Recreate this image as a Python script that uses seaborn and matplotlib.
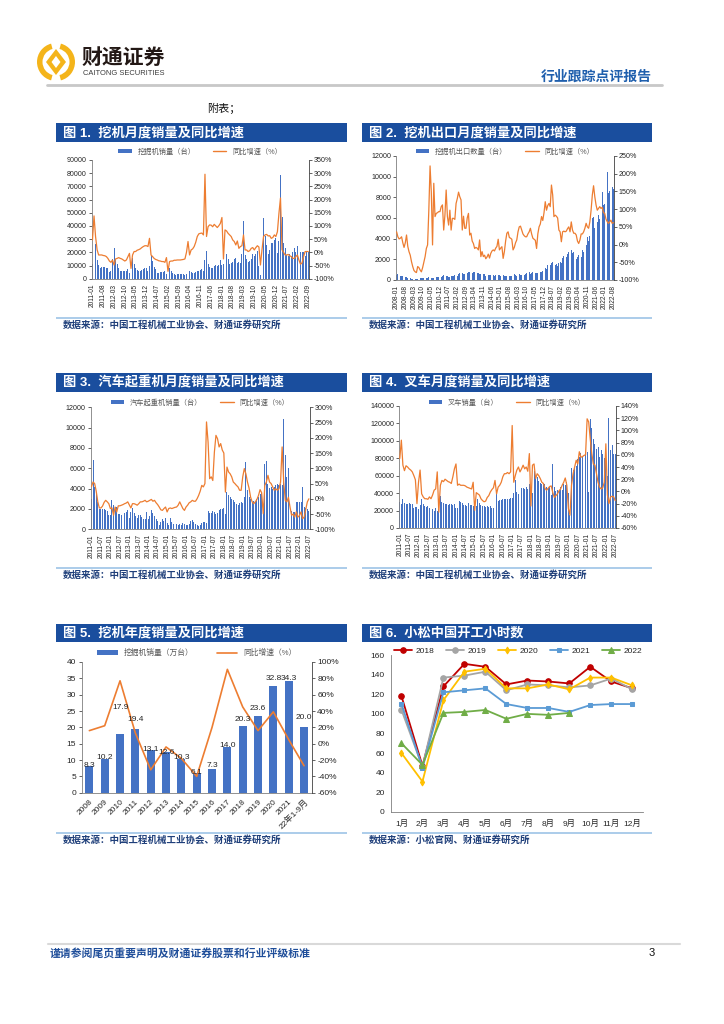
import numpy as np
import matplotlib
matplotlib.use('Agg')
import matplotlib.pyplot as plt
import matplotlib.patches as mpatches
from matplotlib.lines import Line2D
import seaborn as sns

sns.set_style('white')
plt.rcParams['font.family'] = ['Liberation Sans', 'Noto Sans CJK SC', 'DejaVu Sans']
plt.rcParams['axes.unicode_minus'] = False


def month_labels(y, m, n):
    out = []
    for _ in range(n):
        out.append(f'{y}-{m:02d}')
        m += 1
        if m > 12:
            y, m = y + 1, 1
    return out


# ---------------- 数据 ----------------
# 图1 挖机月度销量 2011-01 ~ 2022-09
exc_months = month_labels(2011, 1, 141)
exc_sales = [
    11000, 20500, 26500, 14000, 10500, 8000, 8500, 8800, 8600, 8200, 8000, 5000,
    6000, 15000, 23000, 15000, 11000, 8000, 6000, 5800, 5800, 5900, 6200, 7000,
    4500, 6500, 16000, 11500, 8000, 6500, 6000, 5800, 6800, 7500, 8000, 8200,
    5500, 9500, 18000, 13500, 8500, 7500, 4500, 4600, 4800, 5000, 5200, 5600,
    3500, 4000, 8000, 6000, 4500, 3500, 3000, 3200, 3300, 3500, 3200, 3800,
    3000, 3500, 7000, 6000, 5200, 4300, 4500, 4800, 5800, 6200, 6800, 7000,
    6000, 14000, 21000, 11000, 9000, 8000, 8000, 9500, 10500, 10000, 10500, 14000,
    10500, 11000, 26500, 19000, 15000, 11000, 12000, 13000, 15000, 15500, 12000, 13000,
    12000, 19000, 44000, 18000, 15000, 13000, 13500, 15000, 18500, 17000, 19000, 21000,
    9500, 2500, 49000, 46000, 32000, 25500, 19000, 21500, 27000, 27000, 29000, 31000,
    19500, 28500, 79000, 46500, 27000, 23000, 18000, 17000, 19000, 17500, 20000, 23000,
    20500, 24500, 37000, 20500, 20000, 20500, 17000, 20500, 20000]
exc_yoy = [
    47, 138, 60, 10, -10, -10, -10, -12, -13, -16, -23, -33,
    -38, -29, -48, -25, -23, -20, -23, -25, -29, -33, -29, -16,
    -4, -61, -10, 3, 3, 8, 10, 13, 18, 22, 25, 25,
    22, 53, -10, -16, -23, -27, -29, -32, -33, -35, -35, -38,
    -20, -72, -35, -33, -33, -30, -30, -29, -29, -29, -28, -27,
    -25, 0, 41, -10, 9, 13, 22, 38, 60, 70, 72, 73,
    66, 296, 60, 97, 104, 103, 97, 106, 100, 94, 101, 110,
    132, -25, 85, 81, 72, 66, 60, 47, 41, 28, 43, 15,
    22, 25, 66, 9, 9, 3, 6, 15, 18, 9, 18, 25,
    20, -48, 10, 60, 66, 68, 62, 63, 53, 56, 66, 60,
    78, 148, 206, 10, 0, -10, -10, -8, -13, -16, -23, -23,
    -16, -10, -30, -45, -40, -16, 3, 3, 3]

# 图2 挖机出口 2008-01 ~ 2022-08
exp_months = month_labels(2008, 1, 176)
exp_sales = [
    450, 550, 500, 420, 380, 350, 300, 280, 250, 200, 160, 150,
    120, 100, 110, 120, 130, 140, 150, 160, 170, 150, 160, 180,
    150, 200, 250, 220, 230, 220, 240, 220, 250, 260, 280, 350,
    300, 350, 450, 400, 380, 350, 300, 320, 350, 360, 380, 450,
    300, 400, 600, 650, 700, 650, 600, 620, 650, 700, 750, 800,
    500, 700, 750, 800, 850, 700, 650, 600, 620, 650, 600, 550,
    400, 450, 500, 450, 500, 420, 450, 400, 450, 480, 500, 450,
    350, 400, 450, 420, 430, 400, 450, 380, 400, 420, 500, 550,
    450, 400, 580, 550, 500, 450, 500, 480, 550, 650, 700, 750,
    600, 650, 800, 750, 700, 720, 650, 700, 750, 800, 900, 1000,
    1200, 1050, 1450, 1300, 1500, 1600, 1700, 1650, 1500, 1550, 1400, 1600,
    1700, 1600, 2100, 2300, 2600, 2200, 2500, 2750, 2600, 2900, 2600, 2700,
    2600, 2000, 2200, 2400, 2500, 2200, 2900, 2700, 3000, 3400, 4200, 3800,
    4300, 5200, 6000, 6100, 5000, 5800, 5600, 6300, 5900, 7300, 8500, 7300,
    7400, 7300, 10500, 8400, 8600, 9700, 9000, 8800]
exp_yoy = [
    36, 22, 16, 18, 22, 5, -8, 5, 27, -5, -20, -30,
    -48, -62, -73, -77, -79, -62, -65, -72, -77, -65, -50, -34,
    -11, -1, 97, 222, 149, -1, 173, 79, 88, 90, 93, 93,
    107, 112, 41, 83, 154, 79, 55, 97, 41, 74, 74, 71,
    116, 130, 148, 135, 126, 41, 80, 46, 46, 75, 88, 27,
    32, 10, 3, -11, -8, -10, -15, 13, -34, -20, -34, -30,
    -40, -35, -27, -38, -25, -18, -15, -18, -10, -5, 15, -15,
    -10, -6, -39, -20, 10, 32, 36, 20, 18, 15, -15, -8,
    5, 13, 36, 50, 52, 41, 30, 25, 22, 22, 30, 36,
    46, 30, 18, 15, 12, -11, 30, 50, 58, 79, 68, 90,
    121, 97, 110, 116, 107, 168, 140, 79, 83, 80, 75, 41,
    36, 8, 36, 38, 36, 38, 45, 50, 36, 64, 41, 32,
    32, 27, 10, 3, 13, 30, 30, 36, 46, 60, 50, 46,
    64, 97, 140, 166, 135, 112, 97, 102, 107, 102, 105, 90,
    88, 72, 65, 60, 64, 69, 60, 62]

# 图3 汽车起重机 2011-01 ~ 2022-07
crane_months = month_labels(2011, 1, 139)
crane_sales = [
    3000, 6850, 4200, 3700, 2700, 2000, 2000, 2000, 1950, 1900, 1800, 1450,
    1450, 2850, 2400, 2200, 2200, 1500, 1500, 1450, 1550, 1600, 1700, 1850,
    1100, 1700, 2050, 1600, 1300, 1100, 1400, 1450, 1200, 1000, 1000, 1700,
    1000, 1300, 1870, 1650, 1300, 1050, 800, 460, 720, 1050, 850, 1100,
    600, 460, 1100, 720, 560, 560, 520, 430, 500, 450, 590, 560,
    400, 430, 560, 790, 880, 720, 520, 400, 300, 400, 650, 720,
    720, 650, 1840, 1600, 1600, 1840, 1700, 1550, 1600, 1930, 2030, 2030,
    2100, 1500, 3670, 3340, 3180, 3000, 2850, 2700, 2530, 2360, 2600, 2700,
    2600, 3180, 6600, 3840, 3200, 3000, 2700, 2800, 2700, 2950, 3200, 3500,
    3670, 1700, 6460, 6690, 4490, 4060, 4160, 3930, 4200, 4330, 4490, 4400,
    4500, 4400, 10890, 7280, 5150, 6030, 1870, 1770, 1750, 1750, 2700, 2700,
    2700, 2700, 4160, 2200, 2100, 2030, 1800]
crane_yoy = [
    40, 55, 50, 25, -10, -30, -30, -24, -12, -5, -10, -16,
    -32, -30, -54, -27, -43, -23, -23, -21, -19, -16, -14, -10,
    -20, -30, -16, -16, -18, -21, -16, -10, -10, -8, -5, -10,
    -8, -5, -2, -8, -5, -13, -19, -27, -36, -38, -32, -27,
    -43, -32, -30, -32, -30, -28, -27, -21, -10, -21, -32, -38,
    -27, -21, -13, -10, -5, -8, -8, 0, 11, 25, 44, 39,
    50, 252, 186, 66, 72, 60, 153, 208, 197, 170, 181, 160,
    150, 22, 104, 88, 82, 72, 55, 50, 44, 39, 28, 28,
    72, 99, 82, 55, 35, 5, -10, -16, -10, -2, 11, 30,
    20, -49, 44, 55, 77, 55, 50, 39, 28, 33, 28, 33,
    55, 170, 55, -5, -10, 5, -27, -54, -50, -60, -43, -60,
    -55, -43, -65, -60, -35, -10, 0]

# 图4 叉车 2011-01 ~ 2022-07
fork_months = month_labels(2011, 1, 139)
fork_sales = [
    30000, 28000, 33000, 28700, 28000, 28000, 28300, 28000, 27500, 23000, 24000, 24500,
    22000, 26000, 33000, 27000, 25500, 24000, 25000, 23000, 26000, 22000, 20000, 23000,
    20000, 22000, 36700, 30000, 28700, 28000, 27000, 26500, 28000, 27500, 26500, 27000,
    23000, 22500, 31000, 30000, 28500, 26500, 26500, 25500, 28500, 26500, 26500, 25000,
    24000, 25000, 33000, 29000, 26500, 25500, 25000, 24000, 25000, 24500, 25000, 23000,
    23000, 17000, 43500, 30800, 32400, 32400, 33000, 33000, 33500, 33500, 33500, 34000,
    35000, 40000, 54700, 41300, 39000, 39000, 46000, 46000, 44500, 47000, 44500, 50000,
    45000, 40000, 65000, 60000, 58500, 54000, 52000, 51000, 51000, 50000, 47000, 46000,
    47000, 38000, 74000, 47000, 43000, 44000, 44000, 47000, 44000, 50000, 49000, 53000,
    40000, 14500, 68800, 66000, 69600, 71000, 78800, 81500, 86500, 81500, 87000, 86000,
    87000, 41300, 125000, 115000, 102500, 96800, 91000, 93000, 81500, 89000, 85000, 80000,
    82000, 60000, 126000, 89000, 95700, 84800, 85000]
fork_yoy = [
    54, 84, 43, 34, 42, 40, 37, 35, 32, 26, 19, -20,
    15, 35, -4, -9, -12, -12, -13, -9, -12, -6, 2, 4,
    32, -34, 10, 18, 16, 20, 18, 16, 15, 13, 24, 37,
    45, 10, 12, 10, 10, 10, 9, 7, 6, 5, 4, 15,
    -31, -2, -4, -6, -12, -15, -17, -16, -10, -7, -1, 3,
    6, 18, -4, 7, 10, 15, 24, 29, 29, 31, 29, 32,
    108, 15, 26, 35, 40, 32, 37, 43, 37, 40, 33, 62,
    -24, 43, 45, 21, 29, 26, 21, 15, 13, 5, 2, 5,
    8, 9, -2, -10, -7, -4, 1, 4, 10, 15, 22, 10,
    -28, -39, 10, 29, 40, 51, 45, 65, 56, 57, 59, 60,
    119, 114, 86, 62, 45, 43, 29, 15, 7, 4, 6, 15,
    78, -6, -20, -9, -8, -9, -15]

# 图5 挖机年度销量（万台）
years5 = ['2008', '2009', '2010', '2011', '2012', '2013', '2014', '2015', '2016',
          '2017', '2018', '2019', '2020', '2021', '22年1-9月']
sales5 = [8.3, 10.2, 17.9, 19.4, 13.1, 12.6, 10.3, 6.1, 7.3, 14.0, 20.3, 23.6, 32.8, 34.3, 20.0]
yoy5 = [16, 22, 77, 13, -32, -4, -18, -40, 20, 91, 45, 16, 39, 5, -27]
label_y5 = [8.3, 10.7, 26.1, 22.4, 13.3, 12.2, 10.8, 6.3, 8.4, 14.4, 22.4, 25.8, 35.0, 35.0, 23.0]

# 图6 小松中国开工小时数
months6 = ['1月', '2月', '3月', '4月', '5月', '6月', '7月', '8月', '9月', '10月', '11月', '12月']
hours = {
    '2018': [118, 47, 128, 151, 148, 130, 134, 133, 131, 148, 133, 126],
    '2019': [104, 46, 137, 139, 143, 124, 130, 129, 127, 129, 136, 125],
    '2020': [60, 31, 114, 143, 146, 126, 126, 130, 125, 137, 137, 129],
    '2021': [110, 45, 122, 124, 126, 110, 106, 106, 102, 109, 110, 110],
    '2022': [70, 48, 101, 102, 104, 95, 100, 99, 101],
}
styles6 = {
    '2018': ('#C00000', 'o', 4.0),
    '2019': ('#A5A5A5', 'o', 4.0),
    '2020': ('#FFC000', 'd', 3.5),
    '2021': ('#5B9BD5', 's', 3.5),
    '2022': ('#70AD47', '^', 3.8),
}

# ---------------- 画布 ----------------
W, H = 724, 1024
BAR = '#4472C4'
LINE = '#ED7D31'
HEAD = '#1A4E9E'
SRC = '#1F3F7A'
SEP = '#9DC3E6'
AXC = '#7F7F7F'

fig = plt.figure(figsize=(W / 100, H / 100), dpi=100)
fig.patch.set_facecolor('white')
bg = fig.add_axes([0, 0, 1, 1])
bg.set_xlim(0, W)
bg.set_ylim(H, 0)
bg.axis('off')


def frame(x0, y0, x1, y1):
    return fig.add_axes([x0 / W, 1 - y1 / H, (x1 - x0) / W, (y1 - y0) / H])


def title_bar(x0, x1, y0, y1, text):
    bg.add_patch(mpatches.Rectangle((x0, y0), x1 - x0, y1 - y0, color=HEAD, lw=0))
    bg.text(x0 + 7, (y0 + y1) / 2 + 0.5, text, color='white', fontsize=9.5,
            fontweight='bold', va='center', ha='left')


def source(x0, x1, y, text):
    bg.plot([x0, x1], [y, y], color=SEP, lw=1.2, solid_capstyle='butt')
    bg.text(x0 + 7, y + 7, text, fontsize=6.8, fontweight='bold', color=SRC, va='center')


def legend_at(ax, handles, labels, cx, cy, **kw):
    ax.legend(handles, labels, loc='center', bbox_to_anchor=(cx / W, 1 - cy / H),
              bbox_transform=fig.transFigure, frameon=False, **kw)


def combo(box, cats, vals, yoy, ymax, ystep, rmin, rmax, rstep, every, labels, legend_xy):
    ax = frame(*box)
    n = len(cats)
    sns.barplot(x=cats, y=vals, ax=ax, color=BAR, saturation=1, width=0.62, errorbar=None,
                linewidth=0, edgecolor='none')
    ax2 = ax.twinx()
    sns.lineplot(x=np.arange(n), y=yoy, ax=ax2, color=LINE, linewidth=0.9)
    ax.set_xlim(-0.5, n - 0.5)
    ax.set_ylim(0, ymax)
    ax.set_yticks(np.arange(0, ymax + 1, ystep))
    ax.set_yticklabels([f'{v:d}' for v in np.arange(0, ymax + 1, ystep)])
    ax2.set_ylim(rmin, rmax)
    ax2.set_yticks(np.arange(rmin, rmax + 1, rstep))
    ax2.set_yticklabels([f'{v:d}%' for v in np.arange(rmin, rmax + 1, rstep)])
    ax.set_xticks(np.arange(0, n, every))
    ax.set_xticklabels(cats[::every], rotation=90)
    for a in (ax, ax2):
        a.set_xlabel('')
        a.set_ylabel('')
        a.spines['top'].set_visible(False)
        a.tick_params(length=2, width=0.5, pad=1.5, labelsize=5.1, colors='#262626')
    ax.tick_params(axis='x', labelsize=4.8)
    ax.spines['right'].set_visible(False)
    ax2.spines['left'].set_visible(False)
    ax2.spines['bottom'].set_visible(False)
    for s in ('left', 'bottom'):
        ax.spines[s].set_color(AXC)
        ax.spines[s].set_linewidth(0.6)
    ax2.spines['right'].set_color('#404040')
    ax2.spines['right'].set_linewidth(0.6)
    handles = [mpatches.Patch(color=BAR, lw=0), Line2D([], [], color=LINE, lw=1)]
    legend_at(ax2, handles, labels, *legend_xy, ncol=2, fontsize=5.2, handlelength=1.9,
              handleheight=0.5, columnspacing=2.4, labelcolor='#595959')
    return ax, ax2


# ---------------- 页眉 ----------------
gold = '#F4B41A'
cx, cy = 56, 62
bg.add_patch(mpatches.Wedge((cx, cy), 19, 105, 255, width=5.5, color=gold, lw=0))
bg.add_patch(mpatches.Wedge((cx, cy), 19, -75, 75, width=5.5, color=gold, lw=0))
bg.add_patch(mpatches.Polygon([(cx, cy - 13), (cx + 10, cy), (cx, cy + 13), (cx - 10, cy)],
                              closed=True, color=gold, lw=0))
bg.add_patch(mpatches.Polygon([(cx, cy - 6), (cx + 4.5, cy), (cx, cy + 6), (cx - 4.5, cy)],
                              closed=True, color='white', lw=0))
bg.text(82, 57, '财通证券', fontsize=15, fontweight='bold', color='#231815', va='center',
        ha='left', family=['Noto Sans CJK SC', 'DejaVu Sans'])
bg.text(83, 73.5, 'CAITONG SECURITIES', fontsize=5.4, color='#3A3A3A', va='center', ha='left')
bg.text(652, 77, '行业跟踪点评报告', fontsize=10, fontweight='bold', color='#1F5FAD',
        va='center', ha='right')
bg.plot([47, 662], [85, 85], color='#C8C8C8', lw=2)
bg.text(207, 108, '附表；', fontsize=8, color='#111111', va='center', ha='left')

# ---------------- 图1 / 图2 ----------------
title_bar(56, 347, 123, 142, '图 1.  挖机月度销量及同比增速')
title_bar(362, 652, 123, 142, '图 2.  挖机出口月度销量及同比增速')
combo((91.7, 160, 309, 278.7), exc_months, exc_sales, exc_yoy, 90000, 10000, -100, 350, 50, 7,
      ['挖掘机销量（台）', '同比增速（%）'], (200, 152))
combo((396, 156, 614, 280), exp_months, exp_sales, exp_yoy, 12000, 2000, -100, 250, 50, 7,
      ['挖掘机出口数量（台）', '同比增速（%）'], (505, 152))
source(56, 347, 318, '数据来源：中国工程机械工业协会、财通证券研究所')
source(362, 652, 318, '数据来源：中国工程机械工业协会、财通证券研究所')

# ---------------- 图3 / 图4 ----------------
title_bar(56, 347, 373, 392, '图 3.  汽车起重机月度销量及同比增速')
title_bar(362, 652, 373, 392, '图 4.  叉车月度销量及同比增速')
combo((90.7, 407.3, 309.7, 529.3), crane_months, crane_sales, crane_yoy, 12000, 2000, -100, 300, 50, 6,
      ['汽车起重机销量（台）', '同比增速（%）'], (200, 403))
combo((399, 406, 616, 528), fork_months, fork_sales, fork_yoy, 140000, 20000, -60, 140, 20, 6,
      ['叉车销量（台）', '同比增速（%）'], (507, 403))
source(56, 347, 568, '数据来源：中国工程机械工业协会、财通证券研究所')
source(362, 652, 568, '数据来源：中国工程机械工业协会、财通证券研究所')

# ---------------- 图5 ----------------
title_bar(56, 347, 624, 642, '图 5.  挖机年度销量及同比增速')
ax5 = frame(81.7, 662, 311.7, 792.7)
sns.barplot(x=years5, y=sales5, ax=ax5, color=BAR, saturation=1, width=0.52, errorbar=None,
            linewidth=0, edgecolor='none')
ax5b = ax5.twinx()
sns.lineplot(x=np.arange(len(years5)), y=yoy5, ax=ax5b, color=LINE, linewidth=1.2)
ax5.set_xlim(-0.5, len(years5) - 0.5)
ax5.set_ylim(0, 40)
ax5.set_yticks(np.arange(0, 41, 5))
ax5b.set_ylim(-60, 100)
ax5b.set_yticks(np.arange(-60, 101, 20))
ax5b.set_yticklabels([f'{v:d}%' for v in np.arange(-60, 101, 20)])
ax5.set_xticks(np.arange(len(years5)))
ax5.set_xticklabels(years5, rotation=45, ha='right', rotation_mode='anchor')
for i, v in enumerate(sales5):
    ax5b.text(i, (label_y5[i] / 40) * 160 - 60, f'{v:.1f}', ha='center', va='center',
              fontsize=6, color='#262626')
for a in (ax5, ax5b):
    a.set_xlabel('')
    a.set_ylabel('')
    a.spines['top'].set_visible(False)
    a.tick_params(length=2.5, width=0.5, pad=1.5, labelsize=6, colors='#262626')
ax5.spines['right'].set_visible(False)
ax5b.spines['left'].set_visible(False)
ax5b.spines['bottom'].set_visible(False)
for s in ('left', 'bottom'):
    ax5.spines[s].set_color(AXC)
    ax5.spines[s].set_linewidth(0.6)
ax5b.spines['right'].set_color('#404040')
ax5b.spines['right'].set_linewidth(0.6)
legend_at(ax5b, [mpatches.Patch(color=BAR, lw=0), Line2D([], [], color=LINE, lw=1.2)],
          ['挖掘机销量（万台）', '同比增速（%）'], 197, 653, ncol=2, fontsize=5.6,
          handlelength=2.6, handleheight=0.6, columnspacing=3.0, labelcolor='#595959')
source(56, 347, 833, '数据来源：中国工程机械工业协会、财通证券研究所')

# ---------------- 图6 ----------------
title_bar(362, 652, 624, 642, '图 6.  小松中国开工小时数')
ax6 = frame(391, 655, 642.7, 812)
for yr, vals in hours.items():
    c, m, ms = styles6[yr]
    sns.lineplot(x=np.arange(len(vals)), y=vals, ax=ax6, color=c, marker=m, markersize=ms,
                 markeredgecolor=c, linewidth=1.3, label=yr)
ax6.set_xlim(-0.5, 11.5)
ax6.set_ylim(0, 160)
ax6.set_yticks(np.arange(0, 161, 20))
ax6.set_xticks(np.arange(12))
ax6.set_xticklabels(months6)
ax6.set_xticks(np.arange(-0.5, 12, 1), minor=True)
ax6.tick_params(axis='x', which='major', length=0, pad=6)
ax6.tick_params(axis='x', which='minor', length=3, width=0.5, color=AXC)
ax6.tick_params(axis='y', length=2.5, width=0.5, pad=2)
ax6.tick_params(labelsize=6, colors='#262626')
ax6.set_xlabel('')
ax6.set_ylabel('')
for s in ('top', 'right'):
    ax6.spines[s].set_visible(False)
for s in ('left', 'bottom'):
    ax6.spines[s].set_color(AXC)
    ax6.spines[s].set_linewidth(0.6)
h6, l6 = ax6.get_legend_handles_labels()
legend_at(ax6, h6, l6, 518, 651, ncol=5, fontsize=6, handlelength=2.2, columnspacing=1.4,
          handletextpad=0.4, labelcolor='#262626')
source(362, 652, 833, '数据来源：小松官网、财通证券研究所')

# ---------------- 页脚 ----------------
bg.plot([48, 680], [944, 944], color='#D9D9D9', lw=1.5)
bg.text(50, 953, '谨请参阅尾页重要声明及财通证券股票和行业评级标准', fontsize=7.8, fontweight='bold',
        color='#1F4E9A', va='center', ha='left')
bg.text(652, 953, '3', fontsize=8, color='#111111', va='center', ha='center')

fig.savefig('out.png', dpi=100)
